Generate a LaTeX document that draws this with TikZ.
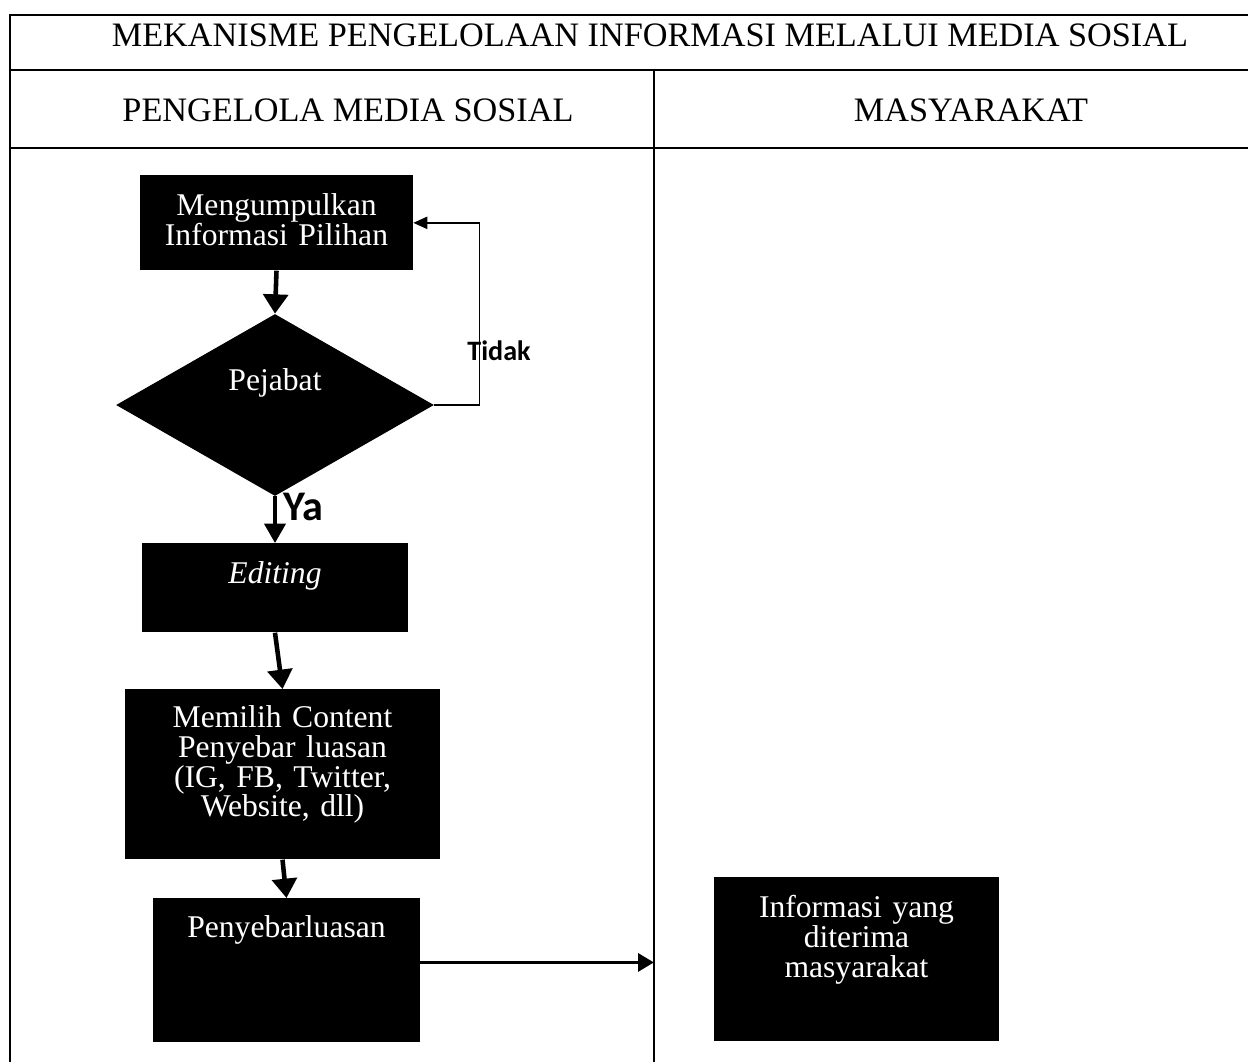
\documentclass[tikz,border=0pt]{standalone}
\usepackage{fontspec}
\setmainfont{Liberation Serif}
\newfontfamily\answerfont{Carlito}
\usetikzlibrary{arrows.meta,shapes.geometric,calc}

\begin{document}
\begin{tikzpicture}[x=0.02cm,y=-0.02cm,
 frameline/.style={line width=1.1pt},
 headtext/.style={anchor=base,inner sep=0pt,font=\fontsize{19.5}{22}\selectfont},
 procbox/.style={fill=black,text=white,anchor=north,inner sep=0pt,align=center,
  font=\fontsize{18}{17}\selectfont},
 flowarrow/.style={line width=2.6pt,-{Triangle[length=11pt,width=14pt]}},
 backarrow/.style={line width=0.8pt,-{Triangle[length=8pt,width=7pt]}},
 answer/.style={inner sep=1pt,font=\answerfont\bfseries}]
\useasboundingbox (0,0) rectangle (1248,1062);
% frame of the table
\draw[frameline] (1248,15) -- (10,15) -- (10,1062);
\draw[line width=1.5pt] (10,70) -- (1248,70);
\draw[frameline] (10,148) -- (1248,148);
\draw[frameline] (654,70) -- (654,1062);
\coordinate (lane) at (654,148);
\node[headtext] (title) at (650,46) {MEKANISME PENGELOLAAN INFORMASI MELALUI MEDIA SOSIAL};
\node[headtext] (headpengelola) at (348,121) {PENGELOLA MEDIA SOSIAL};
\node[headtext] (headmasyarakat) at (971,121) {MASYARAKAT};

% lane: pengelola media sosial
\node[procbox,text width=5.46cm,text height=0.8cm,text depth=1.1cm] (kumpul) at (276.5,175)
 {Mengumpulkan\\Informasi Pilihan};
\node[diamond,fill=black,text=white,aspect=1.75,minimum width=6.36cm,minimum height=3.64cm,
 inner sep=0pt,text height=12pt,text depth=28pt,font=\fontsize{18}{17}\selectfont] (pejabat) at (275,405)
 {Pejabat};
\node[procbox,text width=5.32cm,text height=0.8cm,text depth=0.98cm] (edit) at (275,543)
 {\textit{Editing}};
\node[procbox,text width=6.3cm,text height=0.76cm,text depth=2.64cm] (pilih) at (282.5,689)
 {Memilih Content\\Penyebar luasan\\(IG, FB, Twitter,\\Website, dll)};
\node[procbox,text width=5.34cm,text height=0.78cm,text depth=2.1cm] (sebar) at (286.5,898)
 {Penyebarluasan};

% lane: masyarakat
\node[procbox,text width=5.7cm,text height=0.8cm,text depth=2.48cm] (terima) at (856.5,877)
 {Informasi yang\\diterima\\masyarakat};

\draw[flowarrow] (kumpul.south) -- (pejabat.north);
\draw[backarrow] (pejabat.east) -- ++(45,0) |- (kumpul.east);
\node[answer,font=\answerfont\bfseries\fontsize{16}{18}\selectfont] (tidak) at (499,351) {Tidak};
\draw[line width=2pt,-{Triangle[length=11pt,width=12pt]}] (pejabat.south) -- (edit.north)
 node[answer,pos=0.22,right,xshift=3pt,font=\answerfont\bfseries\fontsize{24}{26}\selectfont] (ya) {Ya};
\draw[flowarrow] (edit.south) -- (pilih.north);
\draw[flowarrow] (pilih.south) -- (sebar.north);
\draw[line width=2.2pt,-{Triangle[length=9pt,width=10pt]}] ([yshift=4.5pt]sebar.east) -- ([yshift=4.5pt]sebar.east -| lane);
\end{tikzpicture}
\end{document}
